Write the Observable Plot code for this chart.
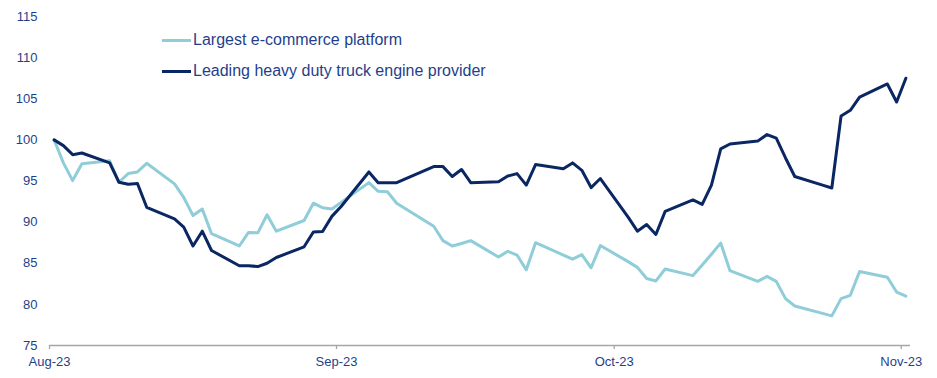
<!DOCTYPE html>
<html>
<head>
<meta charset="utf-8">
<script src="https://cdn.jsdelivr.net/npm/d3@7"></script>
<script src="https://cdn.jsdelivr.net/npm/@observablehq/plot@0.6"></script>
<style>
  body { margin: 0; background: #fff; font-family: "Liberation Sans", Arial, sans-serif; }
  #wrap { position: relative; width: 937px; height: 378px; }
  .legend { position: absolute; left: 162px; top: 0; }
  .item { position: absolute; left: 0; display: flex; align-items: center; white-space: nowrap;
          font-size: 16px; color: #1f3f8c; height: 20px; }
  .swatch { display: inline-block; width: 29px; height: 3px; margin-right: 2px; }
</style>
</head>
<body>
<div id="wrap"></div>
<script>
const dates = [
  "2023-08-01","2023-08-02","2023-08-03","2023-08-04","2023-08-07","2023-08-08","2023-08-09","2023-08-10","2023-08-11",
  "2023-08-14","2023-08-15","2023-08-16","2023-08-17","2023-08-18","2023-08-21","2023-08-22","2023-08-23","2023-08-24","2023-08-25",
  "2023-08-28","2023-08-29","2023-08-30","2023-08-31","2023-09-01","2023-09-04","2023-09-05","2023-09-06","2023-09-07","2023-09-08",
  "2023-09-11","2023-09-12","2023-09-13","2023-09-14","2023-09-15","2023-09-18","2023-09-19","2023-09-20","2023-09-21","2023-09-22",
  "2023-09-25","2023-09-26","2023-09-27","2023-09-28","2023-09-29","2023-10-02","2023-10-03","2023-10-04","2023-10-05","2023-10-06",
  "2023-10-09","2023-10-10","2023-10-11","2023-10-12","2023-10-13","2023-10-16","2023-10-17","2023-10-18","2023-10-19","2023-10-20",
  "2023-10-23","2023-10-24","2023-10-25","2023-10-26","2023-10-27","2023-10-30","2023-10-31","2023-11-01"
];
const ecommerce = [
  100.0, 97.2, 95.05, 97.1, 97.45, 94.85, 95.9, 96.1, 97.15,
  94.65, 93.0, 90.8, 91.6, 88.6, 87.1, 88.75, 88.7, 90.9, 88.9,
  90.2, 92.3, 91.75, 91.6, 92.4, 94.8, 93.75, 93.7, 92.3, 91.6,
  89.5, 87.75, 87.1, 87.4, 87.75, 85.75, 86.45, 86.0, 84.2, 87.5,
  86.0, 85.5, 86.05, 84.45, 87.15, 85.2, 84.5, 83.15, 82.85, 84.3,
  83.5, 84.8, 86.1, 87.45, 84.1, 82.8, 83.4, 82.8, 80.7, 79.8,
  78.9, 78.6, 80.7, 81.1, 84.0, 83.3, 81.5, 81.0
];
const truckEngine = [
  100.0, 99.3, 98.2, 98.4, 97.2, 94.85, 94.6, 94.7, 91.8,
  90.4, 89.4, 87.1, 88.9, 86.55, 84.7, 84.7, 84.6, 85.0, 85.7,
  87.0, 88.8, 88.85, 90.7, 91.9, 96.1, 94.8, 94.8, 94.8, 95.3,
  96.75, 96.75, 95.55, 96.4, 94.8, 94.9, 95.6, 95.9, 94.5, 97.0,
  96.5, 97.2, 96.3, 94.2, 95.3, 90.6, 88.9, 89.7, 88.5, 91.3,
  92.7, 92.15, 94.5, 98.9, 99.5, 99.85, 100.65, 100.2, 97.8, 95.55,
  94.5, 94.15, 102.9, 103.6, 105.2, 106.8, 104.6, 107.5
];
const seriesNames = ["Largest e-commerce platform", "Leading heavy duty truck engine provider"];
const seriesColors = ["#8fcdd8", "#0a2763"];
const monthTicks = ["2023-08-01", "2023-09-01", "2023-10-01", "2023-11-01"];
const yTicks = [75, 80, 85, 90, 95, 100, 105, 110, 115];
const xDomain = ["2023-08-01", "2023-11-02"];
const yDomain = [75, 115];

const parse = d3.utcParse("%Y-%m-%d");
const halfDay = 12 * 3600 * 1000;
const rows = [];
seriesNames.forEach((name, s) => {
  const vals = s === 0 ? ecommerce : truckEngine;
  dates.forEach((d, i) => rows.push({ date: new Date(parse(d).getTime() + halfDay), value: vals[i], series: name }));
});

const chart = Plot.plot({
  width: 937,
  height: 378,
  marginLeft: 49,
  marginRight: 27,
  marginTop: 16,
  marginBottom: 33,
  style: { fontFamily: '"Liberation Sans", Arial, sans-serif', fontSize: "13px", color: "#1f3f8c", background: "transparent" },
  x: { type: "utc", domain: xDomain.map(parse) },
  y: { domain: yDomain },
  color: { domain: seriesNames, range: seriesColors },
  marks: [
    Plot.axisY({ ticks: yTicks, tickSize: 0, tickPadding: 12, label: null, fill: "#1f3f8c" }),
    Plot.axisX({ ticks: monthTicks.map(parse), tickFormat: d3.utcFormat("%b-%y"), tickSize: 4, tickPadding: 7,
                 stroke: "#a6a6a6", strokeWidth: 1.3, label: null, fill: "#1f3f8c" }),
    Plot.ruleY([yDomain[0]], { stroke: "#a6a6a6", strokeWidth: 1.5 }),
    Plot.lineY(rows, { x: "date", y: "value", z: "series", stroke: "series", strokeWidth: 3, strokeLinejoin: "round" })
  ]
});

const wrap = document.getElementById("wrap");
wrap.appendChild(chart);
const legend = document.createElement("div");
legend.className = "legend";
const tops = [30, 61];
seriesNames.forEach((name, i) => {
  const it = document.createElement("div");
  it.className = "item";
  it.style.top = tops[i] + "px";
  it.innerHTML = `<span class="swatch" style="background:${seriesColors[i]}"></span><span>${name}</span>`;
  legend.appendChild(it);
});
wrap.appendChild(legend);
</script>
</body>
</html>
